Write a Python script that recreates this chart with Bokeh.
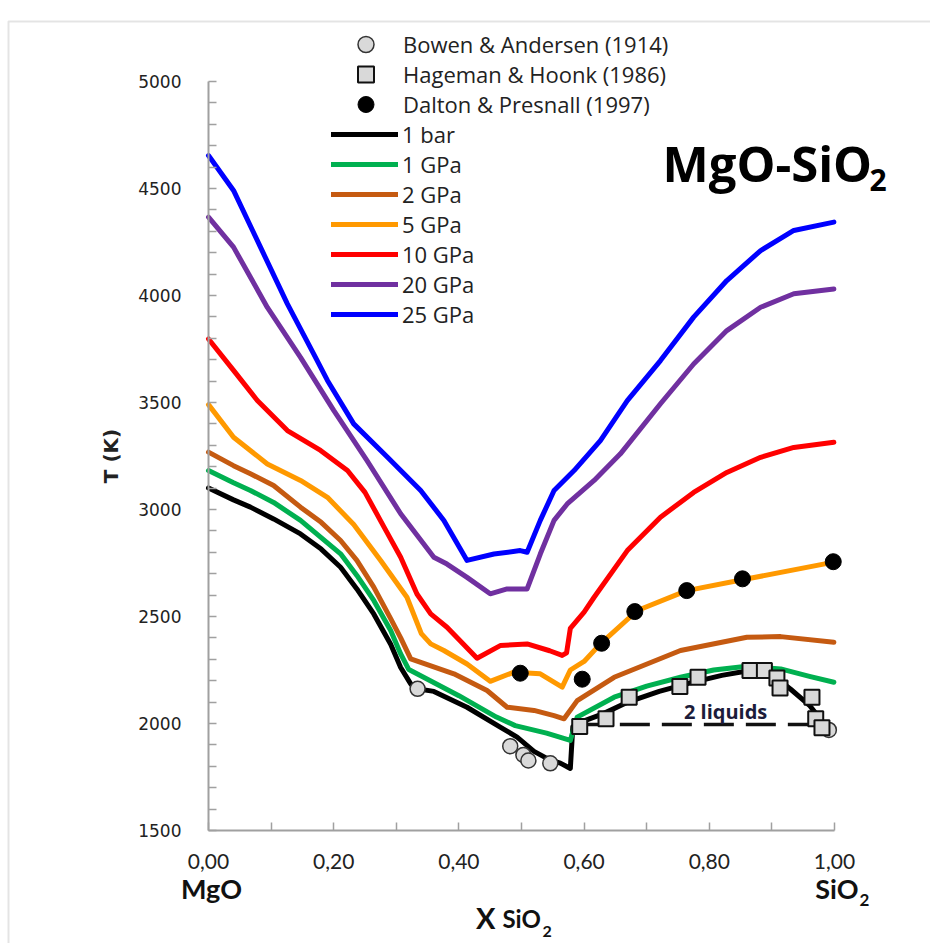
from bokeh.plotting import figure
from bokeh.models import Legend, LegendItem, Label, FixedTicker, CustomJSTickFormatter, BoxAnnotation
from bokeh.embed import file_html
from bokeh.resources import INLINE

# ---------------- data ----------------
x_1bar = [0.00, 0.04, 0.067, 0.104, 0.147, 0.18, 0.211, 0.237, 0.264, 0.291, 0.307, 0.323, 0.333,
          0.36, 0.413, 0.466, 0.493, 0.52, 0.545, 0.562, 0.578, 0.582, 0.60, 0.63, 0.67, 0.72, 0.77,
          0.82, 0.86, 0.885, 0.905, 0.93, 0.96, 0.98, 0.99]
T_1bar = [3101, 3045, 3011, 2956, 2886, 2815, 2730, 2629, 2512, 2370, 2262, 2185, 2162,
          2150, 2076, 1983, 1936, 1870, 1830, 1815, 1790, 1985, 2012, 2045, 2100, 2150, 2190,
          2225, 2245, 2245, 2218, 2160, 2085, 2010, 1970]

x_1gpa = [0.00, 0.04, 0.067, 0.104, 0.147, 0.211, 0.237, 0.264, 0.291, 0.307, 0.320, 0.40, 0.46,
          0.49, 0.54, 0.578, 0.589, 0.648, 0.70, 0.754, 0.807, 0.86, 0.914, 0.96, 0.999]
T_1gpa = [3182, 3125, 3089, 3033, 2949, 2793, 2692, 2575, 2435, 2325, 2252, 2130, 2030,
          1990, 1955, 1921, 2030, 2123, 2175, 2216, 2250, 2268, 2255, 2220, 2193]

x_2gpa = [0.00, 0.04, 0.067, 0.104, 0.147, 0.18, 0.211, 0.237, 0.264, 0.291, 0.307, 0.323, 0.392,
          0.445, 0.477, 0.52, 0.552, 0.568, 0.589, 0.648, 0.754, 0.86, 0.914, 0.999]
T_2gpa = [3268, 3205, 3167, 3112, 3011, 2940, 2855, 2762, 2637, 2490, 2400, 2302, 2232,
          2154, 2076, 2061, 2037, 2022, 2107, 2216, 2341, 2403, 2406, 2380]

x_5gpa = [0.00, 0.04, 0.094, 0.147, 0.19, 0.232, 0.275, 0.317, 0.34, 0.355, 0.376, 0.413, 0.45,
          0.488, 0.53, 0.565, 0.578, 0.60, 0.626, 0.685, 0.764, 0.855, 0.999]
T_5gpa = [3490, 3338, 3213, 3136, 3057, 2930, 2762, 2590, 2420, 2372, 2341, 2278, 2197,
          2240, 2232, 2170, 2250, 2290, 2372, 2528, 2621, 2673, 2754]

x_10gpa = [0.00, 0.04, 0.078, 0.126, 0.179, 0.222, 0.25, 0.28, 0.307, 0.333, 0.355, 0.381, 0.429,
           0.466, 0.509, 0.545, 0.565, 0.572, 0.578, 0.60, 0.616, 0.669, 0.722, 0.775, 0.828,
           0.882, 0.935, 0.999]
T_10gpa = [3797, 3650, 3509, 3369, 3276, 3182, 3080, 2920, 2777, 2605, 2512, 2450, 2305,
           2364, 2372, 2340, 2318, 2330, 2445, 2520, 2590, 2808, 2964, 3080, 3173,
           3244, 3290, 3314]

x_20gpa = [0.00, 0.04, 0.094, 0.147, 0.20, 0.253, 0.307, 0.36, 0.381, 0.413, 0.45, 0.477, 0.509,
           0.53, 0.552, 0.573, 0.616, 0.658, 0.722, 0.775, 0.828, 0.882, 0.935, 0.999]
T_20gpa = [4366, 4226, 3944, 3711, 3463, 3229, 2980, 2777, 2745, 2683, 2606, 2629, 2629,
           2792, 2949, 3026, 3136, 3260, 3494, 3680, 3836, 3945, 4008, 4030]

x_25gpa = [0.00, 0.04, 0.083, 0.126, 0.168, 0.19, 0.232, 0.286, 0.339, 0.376, 0.413, 0.456, 0.498,
           0.509, 0.53, 0.552, 0.584, 0.626, 0.669, 0.722, 0.775, 0.828, 0.882, 0.935, 0.999]
T_25gpa = [4654, 4491, 4226, 3961, 3727, 3603, 3400, 3244, 3089, 2949, 2762, 2792, 2808,
           2800, 2949, 3089, 3182, 3322, 3509, 3696, 3899, 4070, 4210, 4304, 4343]

x_bowen = [0.334, 0.482, 0.503, 0.511, 0.546, 0.991]
T_bowen = [2162, 1894, 1853, 1827, 1814, 1970]

x_hageman = [0.593, 0.635, 0.672, 0.753, 0.782, 0.865, 0.888, 0.908, 0.913, 0.964, 0.970, 0.980]
T_hageman = [1986, 2022, 2123, 2173, 2216, 2248, 2248, 2213, 2166, 2123, 2022, 1980]

x_dalton = [0.498, 0.597, 0.628, 0.681, 0.764, 0.853, 0.998]
T_dalton = [2235, 2207, 2375, 2523, 2621, 2676, 2756]

x_two_liquids = [0.59, 0.99]
T_two_liquids = [1995, 1995]

series_names = ["1 bar", "1 GPa", "2 GPa", "5 GPa", "10 GPa", "20 GPa", "25 GPa"]
series_colors = ["#000000", "#00b050", "#c55a11", "#ff9900", "#ff0000", "#7030a0", "#0000ff"]
series_x = [x_1bar, x_1gpa, x_2gpa, x_5gpa, x_10gpa, x_20gpa, x_25gpa]
series_T = [T_1bar, T_1gpa, T_2gpa, T_5gpa, T_10gpa, T_20gpa, T_25gpa]

x_ticks = [0.0, 0.2, 0.4, 0.6, 0.8, 1.0]
x_minor = [0.1, 0.3, 0.5, 0.7, 0.9]
y_ticks = [1500, 2000, 2500, 3000, 3500, 4000, 4500, 5000]
y_minor = [t for t in range(1600, 5000, 100) if t % 500 != 0]

# ---------------- layout (canvas pixels) ----------------
W, H = 930, 943
X0_PX, X1_PX = 208, 834          # canvas x of X=0 and X=1
Y5000_PX, Y1500_PX = 81, 830     # canvas y (from top) of 5000 K and 1500 K
kx = (X1_PX - X0_PX) / 1.0
ky = (Y1500_PX - Y5000_PX) / 3500.0
x_start = 0 - X0_PX / kx
x_end = 1 + (W - X1_PX) / kx
y_end = 5000 + Y5000_PX / ky
y_start = 1500 - (H - Y1500_PX) / ky

p = figure(width=W, height=H, output_backend="svg", toolbar_location=None, title=None,
           x_range=(x_start, x_end), y_range=(y_start, y_end),
           min_border_left=0, min_border_right=0, min_border_top=0, min_border_bottom=0)
p.outline_line_color = None
p.xgrid.visible = False
p.ygrid.visible = False
p.background_fill_color = "white"
p.border_fill_color = "white"

AXIS_COL = "#a0a0a0"
for ax in (p.xaxis[0], p.yaxis[0]):
    ax.axis_line_color = AXIS_COL
    ax.axis_line_width = 2
    ax.major_tick_line_color = AXIS_COL
    ax.minor_tick_line_color = AXIS_COL
    ax.major_tick_line_width = 1.5
    ax.minor_tick_line_width = 1.5
    ax.major_tick_in = 8
    ax.major_tick_out = 0
    ax.minor_tick_in = 8
    ax.minor_tick_out = 0
    ax.major_label_text_color = "#222222"

p.xaxis.fixed_location = 1500
p.yaxis.fixed_location = 0
p.xaxis.bounds = (0, 1)
p.yaxis.bounds = (1500, 5000)
p.xaxis.ticker = FixedTicker(ticks=x_ticks, minor_ticks=x_minor)
p.xaxis.formatter = CustomJSTickFormatter(code="return tick.toFixed(2).replace('.', ',');")
p.xaxis.major_label_text_font = "Lato"
p.xaxis.major_label_text_font_size = "21px"
p.xaxis.major_label_standoff = 23

p.yaxis.ticker = FixedTicker(ticks=y_ticks, minor_ticks=y_minor)
p.yaxis.major_label_text_font = "DejaVu Sans"
p.yaxis.major_label_text_font_size = "17px"
p.yaxis.major_label_standoff = 27
p.yaxis.axis_label = "T (K)"
p.yaxis.axis_label_text_font = "DejaVu Sans"
p.yaxis.axis_label_text_font_style = "bold"
p.yaxis.axis_label_text_font_size = "20px"
p.yaxis.axis_label_text_color = "#222222"
p.yaxis.axis_label_standoff = 12

# outer frame of the picture (top and left edges only; others fall off the canvas)
p.add_layout(BoxAnnotation(left=x_start + 8 / kx, right=x_end + 1.0,
                           top=y_end - 21 / ky, bottom=y_start - 2000,
                           fill_alpha=0, line_color="#a6a6a6", line_width=2))

# ---------------- curves ----------------
line_renderers = []
for xs, ts, c in zip(series_x, series_T, series_colors):
    r = p.line(xs, ts, line_color=c, line_width=5, line_join="round", line_cap="round")
    line_renderers.append(r)

p.line(x_two_liquids, T_two_liquids, line_color="#111111", line_width=3.5, line_dash="30 12")

r_bowen = p.scatter(x_bowen, T_bowen, marker="circle", size=15, fill_color="#d9d9d9",
                    line_color="#333333", line_width=1.5)
r_hageman = p.scatter(x_hageman, T_hageman, marker="square", size=15, fill_color="#d9d9d9",
                      line_color="#111111", line_width=2)
r_dalton = p.scatter(x_dalton, T_dalton, marker="circle", size=16, fill_color="#000000",
                     line_color="#000000")

# ---------------- legends ----------------
def leg_style(size):
    return dict(padding=0, margin=0, border_line_color=None, background_fill_alpha=0,
                label_text_font="Open Sans", label_text_font_size=size,
                label_text_color="#222222", label_standoff=4, glyph_width=67)

marker_entries = [("Bowen & Andersen (1914)", r_bowen, 44),
                  ("Hageman & Hoonk (1986)", r_hageman, 74),
                  ("Dalton & Presnall (1997)", r_dalton, 104)]
for label, rend, cy in marker_entries:
    p.add_layout(Legend(items=[LegendItem(label=label, renderers=[rend])],
                        location=(332, H - (cy + 20)), glyph_height=40, label_height=40,
                        spacing=0, **leg_style("22px")))

legend_lines = Legend(items=[LegendItem(label=n, renderers=[r]) for n, r in zip(series_names, line_renderers)],
                      location=(331, H - 329), glyph_height=20, label_height=20, spacing=0,
                      **leg_style("22px"))
p.add_layout(legend_lines)

# ---------------- text annotations ----------------
def add_text(x, y, text, size, font="Lato", align="left", baseline="middle", style="bold",
             color="#111111", units="screen"):
    if units == "screen":
        y = H - y  # given as pixels from the top
    p.add_layout(Label(x=x, y=y, x_units=units, y_units=units, text=text, text_font=font,
                       text_font_style=style, text_font_size=size, text_align=align,
                       text_baseline=baseline, text_color=color))

add_text(662, 162, "MgO-SiO", "49px", font="Open Sans", align="left", color="#000000")
add_text(869, 179, "2", "30px", font="Open Sans", align="left", color="#000000")

add_text(0.826, 2056, "2 liquids", "20px", font="Open Sans", align="center", color="#1c1c3a", units="data")

add_text(211, 888, "MgO", "27px", align="center")
add_text(858, 888, "SiO", "27px", align="right")
add_text(859, 899, "2", "17px", align="left")
add_text(495, 917, "X", "29px", align="right")
add_text(502, 918, "SiO", "24px", align="left")
add_text(542, 931, "2", "16px", align="left")

open("out.html", "w").write(file_html(p, INLINE))
